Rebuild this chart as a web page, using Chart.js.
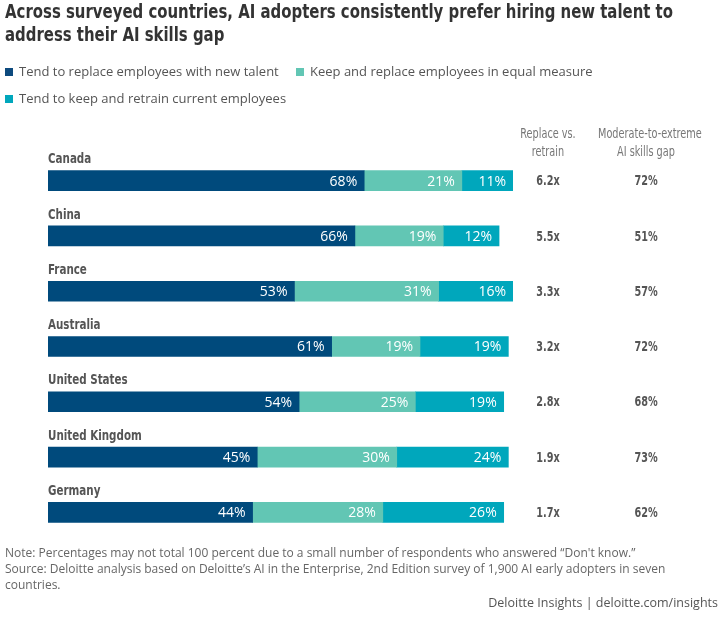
<!DOCTYPE html>
<html>
<head>
<meta charset="utf-8">
<script src="https://cdn.jsdelivr.net/npm/chart.js@4"></script>
<style>
  body { margin: 0; background: #fff; width: 726px; height: 617px; position: relative; overflow: hidden; }
  #chart { position: absolute; left: 0; top: 0; }
  .txt { position: absolute; white-space: nowrap; }
  #title { left: 5px; top: 0px; font: bold 20px "DejaVu Sans Condensed", sans-serif; line-height: 23px; color: #333; transform-origin: 0 0; }
  #title span { display: block; }
  .leg { font: 13px "Open Sans", sans-serif; color: #555; line-height: 16px; }
  .sw { display: inline-block; width: 8px; height: 8px; margin-right: 6px; }
  .hdr { font: 13.5px "DejaVu Sans Condensed", sans-serif; color: #777; line-height: 18px; text-align: center; }
  .foot { font: 12px "Open Sans", sans-serif; color: #666; line-height: 16px; }
</style>
</head>
<body>
<canvas id="chart" width="726" height="617"></canvas>

<div id="title" class="txt"><span id="t1">Across surveyed countries, AI adopters consistently prefer hiring new talent to</span><span>address their AI skills gap</span></div>

<div class="txt leg" style="left:5px; top:63px;"><span class="sw" style="background:#0D4A7E"></span>Tend to replace employees with new talent</div>
<div class="txt leg" style="left:296px; top:63px;"><span class="sw" style="background:#62C6B4"></span>Keep and replace employees in equal measure</div>
<div class="txt leg" style="left:5px; top:90px;"><span class="sw" style="background:#00A7BC"></span>Tend to keep and retrain current employees</div>

<div class="txt hdr" style="left:498px; width:100px; top:124px; transform:scaleX(0.8);">Replace vs.<br>retrain</div>
<div class="txt hdr" style="left:586px; width:120px; top:124px; transform:scaleX(0.8);">Moderate-to-extreme<br>AI skills gap</div>

<div class="txt foot" style="left:5px; top:545px;">Note: Percentages may not total 100 percent due to a small number of respondents who answered “Don't know.”<br>Source: Deloitte analysis based on Deloitte’s AI in the Enterprise, 2nd Edition survey of 1,900 AI early adopters in seven<br>countries.</div>
<div class="txt foot" style="right:8px; top:595px; color:#555; font-size:12.5px;">Deloitte Insights | deloitte.com/insights</div>

<script>
const countries = ['Canada', 'China', 'France', 'Australia', 'United States', 'United Kingdom', 'Germany'];
const replaceNew = [68, 66, 53, 61, 54, 45, 44];
const keepReplace = [21, 19, 31, 19, 25, 30, 28];
const keepRetrain = [11, 12, 16, 19, 19, 24, 26];
const replaceVsRetrain = ['6.2x', '5.5x', '3.3x', '3.2x', '2.8x', '1.9x', '1.7x'];
const skillsGap = [72, 51, 57, 72, 68, 73, 62];

// squeeze the title so its first line spans the same width as the original
const t1 = document.getElementById('t1');
const w1 = t1.getBoundingClientRect().width;
document.getElementById('title').style.transform = 'scaleX(' + (668 / w1) + ')';

const condensed = '"DejaVu Sans Condensed", sans-serif';

function squeezed(ctx, text, x, y, sx) {
  ctx.save();
  ctx.translate(x, y);
  ctx.scale(sx, 1);
  ctx.fillText(text, 0, 0);
  ctx.restore();
}

// labels, in-bar values and the two right-hand columns
const annotate = {
  id: 'annotate',
  afterDatasetsDraw(chart) {
    const ctx = chart.ctx;
    const y = chart.scales.y;
    ctx.save();
    ctx.textBaseline = 'middle';

    chart.data.datasets.forEach((ds, di) => {
      chart.getDatasetMeta(di).data.forEach((bar, i) => {
        ctx.fillStyle = '#fff';
        ctx.font = '14px "Open Sans", sans-serif';
        ctx.textAlign = 'right';
        ctx.fillText(ds.data[i] + '%', bar.x - 7, bar.y + 1);
      });
    });

    countries.forEach((c, i) => {
      const py = y.getPixelForValue(i);
      ctx.fillStyle = '#555';
      ctx.font = 'bold 14px ' + condensed;
      ctx.textAlign = 'left';
      squeezed(ctx, c, chart.chartArea.left, py - 21, 0.82);
      ctx.textAlign = 'center';
      squeezed(ctx, replaceVsRetrain[i], 548, py + 1, 0.77);
      squeezed(ctx, skillsGap[i] + '%', 646, py + 1, 0.77);
    });
    ctx.restore();
  }
};

new Chart(document.getElementById('chart'), {
  type: 'bar',
  data: {
    labels: countries,
    datasets: [
      { label: 'Tend to replace employees with new talent', data: replaceNew, backgroundColor: '#004A7C' },
      { label: 'Keep and replace employees in equal measure', data: keepReplace, backgroundColor: '#62C6B4' },
      { label: 'Tend to keep and retrain current employees', data: keepRetrain, backgroundColor: '#00A7BC' }
    ]
  },
  options: {
    indexAxis: 'y',
    responsive: false,
    animation: false,
    devicePixelRatio: 1,
    barThickness: 20,
    layout: { padding: { left: 48, right: 213, top: 153, bottom: 77 } },
    plugins: { legend: { display: false }, tooltip: { enabled: false } },
    scales: {
      x: { stacked: true, min: 0, max: 100, display: false },
      y: { stacked: true, display: false }
    }
  },
  plugins: [annotate]
});
</script>
</body>
</html>
